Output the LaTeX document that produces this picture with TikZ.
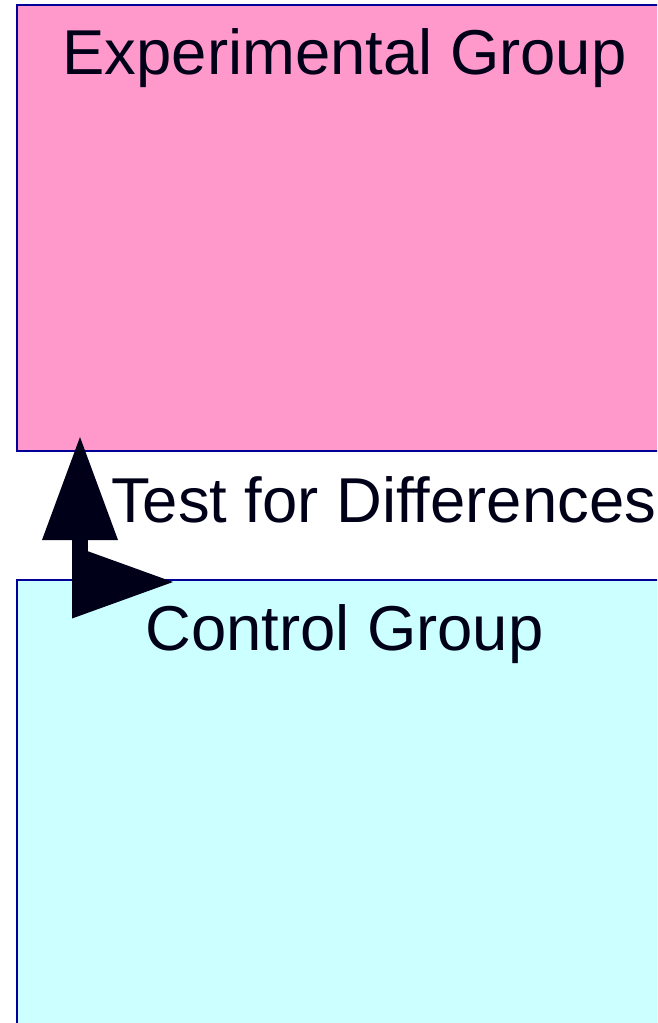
\documentclass[tikz,border=0pt]{standalone}
\usepackage{fontspec}
\setmainfont{Liberation Sans}
\usetikzlibrary{arrows.meta}
\definecolor{groupline}{RGB}{0,0,153}
\definecolor{exppink}{RGB}{255,153,204}
\definecolor{ctrlcyan}{RGB}{204,255,255}
\definecolor{ink}{RGB}{0,0,24}

\begin{document}
\begin{tikzpicture}[x=1pt,y=-1pt,
  groupbox/.style={draw=groupline,line width=2pt,anchor=north west,minimum width=656pt,inner sep=0pt,outer sep=0pt},
  grouptext/.style={text=ink,font=\fontsize{63.4}{76}\selectfont,anchor=base,inner sep=0pt}]
\useasboundingbox (0,0) rectangle (657,1023);
\clip (0,0) rectangle (657,1023);
\node[groupbox,fill=exppink,minimum height=446pt] (exp) at (16.5,5) {};
\node[groupbox,fill=ctrlcyan,minimum height=460pt] (ctrl) at (16.5,580) {};
\coordinate (ctrlend) at ([xshift=156.5pt,yshift=-2pt]ctrl.north west);
\coordinate (expend) at ([xshift=63.5pt,yshift=14pt]exp.south west);
\draw[ink,line width=16pt,{Triangle[length=101pt,width=73pt,line width=0pt]}-{Triangle[length=103pt,width=76pt,line width=0pt]}] (ctrlend) -| (expend);
\node[grouptext] (explabel) at ([yshift=-69pt]exp.north) {Experimental Group};
\node[grouptext] (testlabel) at (383.5,522) {Test for Differences};
\node[grouptext] (ctrllabel) at ([yshift=-70pt]ctrl.north) {Control Group};
\end{tikzpicture}
\end{document}
